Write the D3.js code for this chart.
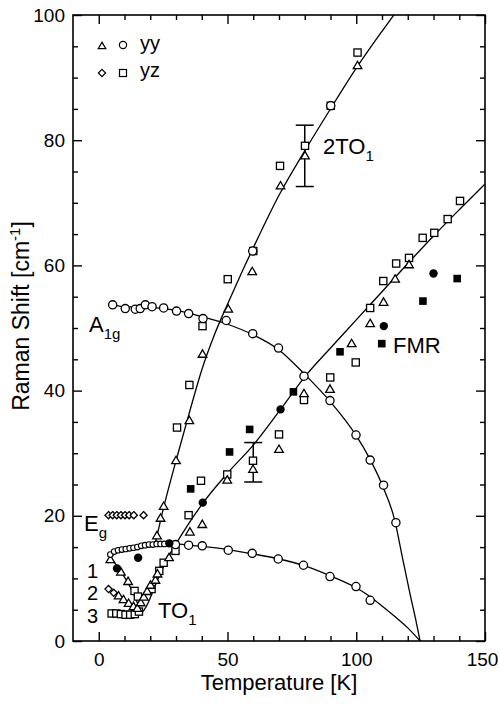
<!DOCTYPE html>
<html><head><meta charset="utf-8">
<script src="https://cdn.jsdelivr.net/npm/d3@7"></script>
<style>
body{margin:0;background:#fff}
svg{display:block}
text{font-family:"Liberation Sans",Arial,Helvetica,sans-serif;fill:#000}
</style>
</head><body>
<svg id="chart" width="499" height="708"></svg>
<script>
// ---------- data (Temperature [K], Raman shift [cm^-1]) ----------
const xMajorTicks = [0, 50, 100, 150];
const yMajorTicks = [0, 20, 40, 60, 80, 100];

// open triangles (yy)
const triangles = [
  [22.6,16.8],[24,19.6],[25.2,21.5],[30,28.8],[35.2,35.2],[40.3,45.8],[50.3,53.0],[59.6,59.0],[70.6,72.7],[80.1,77.5],[100.5,91.9],
  [35.4,17.4],[40.2,18.6],[49.9,25.7],[59.9,27.4],[70,30.6],[79.7,39.5],[89.8,40.2],[98.2,47.5],[105.4,50.7],[110.6,54.1],[115.1,57.8],[120.5,60.1],
  [4.5,13.0],[8.6,11.0],[11.4,9.5],[7.7,7.2],[9.6,6.6],[11.6,6.0],[13.5,5.5],[15,5.2],
  [16.3,6.1],[17.5,7.0],[18.8,7.9],[20.1,8.9],[22,9.7],[22.8,10.7],[27.3,13.3]
];
// open circles (yy)
const circles = [
  [5.4,53.7],[10.3,53.1],[14.2,53.0],[16.1,53.1],[18.1,53.7],[20.7,53.4],[25.2,53.2],[30.2,52.7],[34.9,52.3],[40.5,51.5],[49.5,51.2],[59.8,49.1],[69.8,46.8],[79.7,42.3],[89.8,38.4],[99.9,32.9],[105.4,28.9],[110.6,24.9],[115.4,18.9],
  [59.8,62.3],[90.1,85.5],
  [29.8,15.4],[34.9,15.3],[40.2,15.2],[50.3,14.5],[59.6,14.0],[69.7,13.1],[79.5,12.1],[89.8,10.3],[99.9,8.7],[105.4,6.5]
];
// small open circles (yy, TO1 hump at low T)
const smallCircles = [
  [4.5,13.8],[6,14.3],[7.5,14.5],[9,14.6],[10.5,14.7],[12,14.8],[13.5,14.9],[15,15],[16.5,15.2],[18,15.3],[19.5,15.4],[21,15.4],[22.5,15.5],[24,15.5],[25.5,15.5]
];
// open squares (yz)
const squares = [
  [30.4,34.1],[35.2,40.9],[40.3,50.3],[50.1,57.8],[60,62.3],[70.4,75.9],[80.1,79.1],[90.1,85.5],[100.5,94.0],
  [34.9,20.1],[39.7,25.6],[49.9,26.6],[59.9,28.8],[70,33],[79.7,38.5],[89.9,42.1],[99.8,44.5],[105.4,53.2],[110.5,57.5],[115.5,60.3],[120.5,61.2],[125.8,64.4],[130.3,65.2],[135.5,67.4],[140.3,70.3],
  [13.9,8.0],[15.2,7.1],[20.5,8.3],[23.5,11.2],[25.2,12.5],[29.8,14.4],
  [5,4.4],[6.8,4.4],[8.6,4.3],[10.4,4.2],[12.2,4.2],[14,4.3],[15.6,4.7]
];
// open diamonds (yz)
const diamonds = [
  [3.8,20.1],[5.4,20.1],[7,20.1],[8.6,20.1],[10.2,20.1],[11.8,20.1],[13.6,20.1],[17.4,20.1],
  [3.8,8.3],[5.8,7.7]
];
// FMR (filled)
const fmrCircles = [[7.1,11.6],[15.3,13.3],[27.4,15.6],[40.4,22.1],[70.6,37.0],[110.7,50.3],[130,58.7]];
const fmrSquares = [[35.7,24.3],[50.8,30.2],[58.6,33.8],[75.6,39.8],[93.7,46.2],[109.9,47.5],[125.9,54.3],[139.2,57.9]];

// fitted curves
const line2TO1 = [[21.8,15.3],[25,21],[30,28.8],[35,36.2],[40,43.3],[45,49],[50,53.8],[55,58.4],[60,62.8],[70,71.2],[80,78.3],[90,85],[100,91.5],[110,97.4],[116,100.8]];
const lineA1g = [[5.4,53.7],[10,53.4],[20,53.3],[30,52.8],[40,51.8],[50,50.6],[60,48.9],[70,46.5],[80,42.6],[90,38.2],[100,32.8],[105,29.3],[110,25],[115,19.2],[118,13.2],[121,7.3],[123,3.6],[124.8,0]];
const lineTO1 = [[4.5,13.4],[8,14.3],[12,14.8],[16,15.1],[20,15.3],[25,15.5],[30,15.5],[35,15.3],[40,15.1],[50,14.6],[60,13.9],[70,13.1],[80,12],[90,10.4],[100,8.5],[105,7.2],[110,5.6],[115,3.9],[120,2.1],[124.8,0]];
const lineSoft = [[4.5,13.4],[7,12],[10,10.2],[13,8],[15,6.1],[16,5],[17,4.7],[18,5.2],[19.5,6.4],[21,7.9],[23,9.9],[25.2,11.9],[27,13.4],[29,14.9],[31,16.2],[35,18.8],[40.4,22],[50,26.8],[60,31.3],[70.6,37],[80,42.2],[90,46.8],[100,51.3],[110,55.8],[120,60.3],[130,64.7],[140,68.9],[150,73]];

// error bars
const errT = [80, 60];
const errLo = [72.6, 25.4];
const errHi = [82.4, 31.7];

// ---------- drawing ----------
const svg = d3.select("#chart");
const L = 73, R = 485, T = 15, B = 641;
const x = d3.scaleLinear().domain([-10,150]).range([L,R]);
const y = d3.scaleLinear().domain([0,100]).range([B,T]);

svg.append("rect").attr("width",499).attr("height",708).attr("fill","#fff");

svg.append("defs").append("clipPath").attr("id","clip")
  .append("rect").attr("x",L).attr("y",T).attr("width",R-L).attr("height",B-T);

const xMinor = d3.range(0,151,10).filter(v=>v%50!==0);
const yMinor = d3.range(0,101,5).filter(v=>v%20!==0);

function styleAxis(g){
  g.select(".domain").remove();
  g.selectAll(".tick line").attr("stroke","#000").attr("stroke-width",1.4);
}
// bottom
svg.append("g").attr("transform",`translate(0,${B})`)
  .call(d3.axisBottom(x).tickValues(xMajorTicks).tickSize(-9).tickPadding(12).tickFormat(d3.format("d")))
  .call(styleAxis)
  .call(g=>g.selectAll("text").attr("font-size",19).attr("font-family","Liberation Sans, Arial, sans-serif")
    .attr("dx",d=>d===150?-3:0));
svg.append("g").attr("transform",`translate(0,${B})`)
  .call(d3.axisBottom(x).tickValues(xMinor).tickSize(-5).tickFormat(""))
  .call(styleAxis);
// top
svg.append("g").attr("transform",`translate(0,${T})`)
  .call(d3.axisTop(x).tickValues(xMajorTicks).tickSize(-9).tickFormat("")).call(styleAxis);
svg.append("g").attr("transform",`translate(0,${T})`)
  .call(d3.axisTop(x).tickValues(xMinor).tickSize(-5).tickFormat("")).call(styleAxis);
// left
svg.append("g").attr("transform",`translate(${L},0)`)
  .call(d3.axisLeft(y).tickValues(yMajorTicks).tickSize(-9).tickPadding(8).tickFormat(d3.format("d")))
  .call(styleAxis)
  .call(g=>g.selectAll("text").attr("font-size",19).attr("font-family","Liberation Sans, Arial, sans-serif"));
svg.append("g").attr("transform",`translate(${L},0)`)
  .call(d3.axisLeft(y).tickValues(yMinor).tickSize(-5).tickFormat("")).call(styleAxis);
// right
svg.append("g").attr("transform",`translate(${R},0)`)
  .call(d3.axisRight(y).tickValues(yMajorTicks).tickSize(-9).tickFormat("")).call(styleAxis);
svg.append("g").attr("transform",`translate(${R},0)`)
  .call(d3.axisRight(y).tickValues(yMinor).tickSize(-5).tickFormat("")).call(styleAxis);

// frame
svg.append("rect").attr("x",L).attr("y",T).attr("width",R-L).attr("height",B-T)
  .attr("fill","none").attr("stroke","#000").attr("stroke-width",1.6);

// curves
const lineGen = d3.line().x(d=>x(d[0])).y(d=>y(d[1])).curve(d3.curveMonotoneX);
const curves = svg.append("g").attr("clip-path","url(#clip)");
[line2TO1, lineA1g, lineTO1, lineSoft].forEach(data=>{
  curves.append("path").datum(data).attr("d",lineGen)
    .attr("fill","none").attr("stroke","#000").attr("stroke-width",1.3);
});

// error bars
const eb = svg.append("g").attr("stroke","#000").attr("stroke-width",1.5);
errT.forEach((t,i)=>{
  eb.append("line").attr("x1",x(t)).attr("x2",x(t)).attr("y1",y(errLo[i])).attr("y2",y(errHi[i]));
  [errLo[i],errHi[i]].forEach(v=>{
    eb.append("line").attr("x1",x(t)-9).attr("x2",x(t)+9).attr("y1",y(v)).attr("y2",y(v));
  });
});

// markers
const SW = 1.3;
function triPath(cx,cy,w,h){
  return `M${cx},${cy-h*0.6}L${cx+w/2},${cy+h*0.4}L${cx-w/2},${cy+h*0.4}Z`;
}
function diaPath(cx,cy,s){
  return `M${cx},${cy-s}L${cx+s},${cy}L${cx},${cy+s}L${cx-s},${cy}Z`;
}
const m = svg.append("g");
m.selectAll(".sq").data(squares).join("rect").attr("class","sq")
  .attr("x",d=>x(d[0])-3.6).attr("y",d=>y(d[1])-3.6).attr("width",7.2).attr("height",7.2)
  .attr("fill","#fff").attr("stroke","#000").attr("stroke-width",SW);
m.selectAll(".dia").data(diamonds).join("path").attr("class","dia")
  .attr("d",d=>diaPath(x(d[0]),y(d[1]),3.6))
  .attr("fill","#fff").attr("stroke","#000").attr("stroke-width",SW);
m.selectAll(".tri").data(triangles).join("path").attr("class","tri")
  .attr("d",d=>triPath(x(d[0]),y(d[1]),8.6,7.4))
  .attr("fill","#fff").attr("stroke","#000").attr("stroke-width",SW);
m.selectAll(".ci").data(circles).join("circle").attr("class","ci")
  .attr("cx",d=>x(d[0])).attr("cy",d=>y(d[1])).attr("r",4.1)
  .attr("fill","#fff").attr("stroke","#000").attr("stroke-width",SW);
m.selectAll(".sci").data(smallCircles).join("circle").attr("class","sci")
  .attr("cx",d=>x(d[0])).attr("cy",d=>y(d[1])).attr("r",2.8)
  .attr("fill","#fff").attr("stroke","#000").attr("stroke-width",1.1);
m.selectAll(".fci").data(fmrCircles).join("circle").attr("class","fci")
  .attr("cx",d=>x(d[0])).attr("cy",d=>y(d[1])).attr("r",4.2).attr("fill","#000");
m.selectAll(".fsq").data(fmrSquares).join("rect").attr("class","fsq")
  .attr("x",d=>x(d[0])-3.8).attr("y",d=>y(d[1])-3.8).attr("width",7.6).attr("height",7.6).attr("fill","#000");

// legend
const lg = svg.append("g");
lg.append("path").attr("d",triPath(102,46,7.5,6.5)).attr("fill","#fff").attr("stroke","#000").attr("stroke-width",1.2);
lg.append("circle").attr("cx",123).attr("cy",45).attr("r",3.6).attr("fill","#fff").attr("stroke","#000").attr("stroke-width",1.2);
lg.append("text").attr("x",140).attr("y",50).attr("font-size",20).text("yy");
lg.append("path").attr("d",diaPath(102,73,3.6)).attr("fill","#fff").attr("stroke","#000").attr("stroke-width",1.2);
lg.append("rect").attr("x",119.5).attr("y",69.5).attr("width",7).attr("height",7).attr("fill","#fff").attr("stroke","#000").attr("stroke-width",1.2);
lg.append("text").attr("x",140).attr("y",77).attr("font-size",20).text("yz");

// annotations
function label(xp,yp,main,sub,size,subSize){
  const t = svg.append("text").attr("x",xp).attr("y",yp).attr("font-size",size);
  t.append("tspan").text(main);
  if(sub) t.append("tspan").attr("font-size",subSize).attr("dy",7).text(sub);
  return t;
}
label(323,154,"2TO","1",22,15);
label(89,332,"A","1g",22,15);
svg.append("text").attr("x",393).attr("y",353).attr("font-size",22).text("FMR");
label(84,531,"E","g",22,15);
svg.append("text").attr("x",87).attr("y",578).attr("font-size",20).text("1");
svg.append("text").attr("x",87).attr("y",600).attr("font-size",20).text("2");
svg.append("text").attr("x",87).attr("y",623).attr("font-size",20).text("3");
label(158,618,"TO","1",22,15);

// axis titles
svg.append("text").attr("x",(L+R)/2).attr("y",690).attr("text-anchor","middle")
  .attr("font-size",22).text("Temperature [K]");
const yt = svg.append("text").attr("transform","translate(29,316) rotate(-90)")
  .attr("text-anchor","middle").attr("font-size",23);
yt.append("tspan").text("Raman Shift [cm");
yt.append("tspan").attr("font-size",15).attr("dy",-9).text("-1");
yt.append("tspan").attr("dy",9).text("]");
</script>
</body></html>
